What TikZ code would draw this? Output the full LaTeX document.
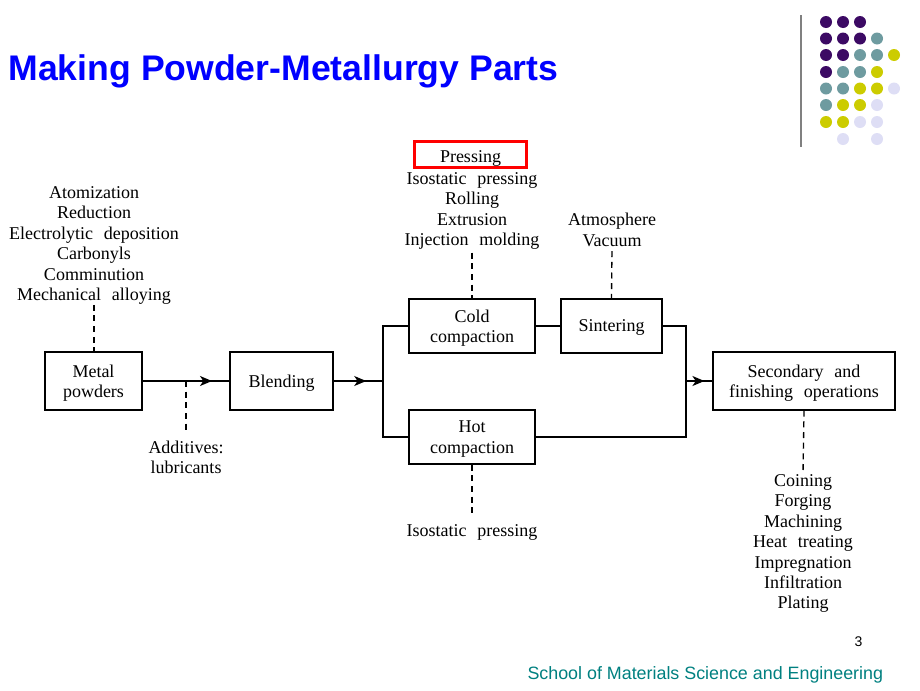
\documentclass[tikz,border=0pt]{standalone}
\usepackage{fontspec}
\setmainfont{Liberation Serif}
\newfontfamily\slidefont{Liberation Sans}
\usetikzlibrary{arrows.meta}
\usetikzlibrary{decorations.markings}
\definecolor{titleblue}{RGB}{0,0,255}
\definecolor{footteal}{RGB}{0,128,128}
\definecolor{dotpurple}{RGB}{60,10,100}
\definecolor{dotteal}{RGB}{110,155,160}
\definecolor{dotyellow}{RGB}{204,204,0}
\definecolor{dotlilac}{RGB}{222,222,245}
\newcommand{\wgap}{\hspace{0.6em}}
\tikzset{every picture/.style={line width=0.75pt}}
\tikzset{
  flowtext/.style={align=center, inner sep=0pt, font=\fontsize{13.5}{15.3}\selectfont},
  flowbox/.style={flowtext, draw, line width=1pt, text depth=0pt},
  flowline/.style={line width=1pt},
  dashlink/.style={line width=1pt, dash pattern=on 4.5pt off 3.5pt},
  arrowat/.style={postaction={decorate}, decoration={markings, mark=at position #1 with {\arrow{Stealth[length=9pt,width=7.5pt,inset=2.5pt]}}}},
}

\begin{document}
\begin{tikzpicture}[x=0.75pt,y=0.75pt,yscale=-1,xscale=1]
\useasboundingbox (0,0) rectangle (920,690);

% Title
\node [anchor=base west, inner sep=0pt, text=titleblue, font=\slidefont\bfseries\fontsize{26.7}{32}\selectfont] (title) at (8,80) {Making Powder-Metallurgy Parts};

% Rule and dots, top right
\draw [color=gray, line width=1.5pt] (801,15) -- (801,147) ;
\foreach \cx/\cy/\cc in {826/22/dotpurple, 843/22/dotpurple, 860/22/dotpurple,
  826/38.5/dotpurple, 843/38.5/dotpurple, 860/38.5/dotpurple, 877/38.5/dotteal,
  826/55/dotpurple, 843/55/dotpurple, 860/55/dotteal, 877/55/dotteal, 894/55/dotyellow,
  826/72/dotpurple, 843/72/dotteal, 860/72/dotteal, 877/72/dotyellow,
  826/88.5/dotteal, 843/88.5/dotteal, 860/88.5/dotyellow, 877/88.5/dotyellow, 894/88.5/dotlilac,
  826/105/dotteal, 843/105/dotyellow, 860/105/dotyellow, 877/105/dotlilac,
  826/122/dotyellow, 843/122/dotyellow, 860/122/dotlilac, 877/122/dotlilac,
  843/139/dotlilac, 877/139/dotlilac}
  \fill [\cc] (\cx,\cy) circle (6) ;

% Boxes
\node [flowbox, minimum width=72.75pt, minimum height=43.5pt] (powders) at (93.5,381) {Metal\\powders};
\node [flowbox, minimum width=77.25pt, minimum height=43.5pt] (blending) at (281.5,381) {Blending};
\node [flowbox, minimum width=94.5pt, minimum height=40.5pt] (cold) at (472,326) {Cold\\compaction};
\node [flowbox, minimum width=94.5pt, minimum height=40.5pt] (hot) at (472,437) {Hot\\compaction};
\node [flowbox, minimum width=75.75pt, minimum height=40.5pt] (sinter) at (611.5,326) {Sintering};
\node [flowbox, minimum width=136.5pt, minimum height=43.5pt] (finish) at (804,381) {Secondary\wgap and\\finishing\wgap operations};

% Text lists
\node [flowtext, anchor=north] (methods) at (94,186) {Atomization\\Reduction\\Electrolytic\wgap deposition\\Carbonyls\\Comminution\\Mechanical\wgap alloying};
\node [flowtext, anchor=north] (additives) at (186,440) {Additives:\\lubricants};
\node [flowtext, draw=red, line width=2.25pt, text height=12pt, text depth=0pt, minimum width=84pt, minimum height=19.5pt] (pressing) at (470.5,154.5) {Pressing};
\node [flowtext, anchor=north] (shaping) at (472,172) {Isostatic\wgap pressing\\Rolling\\Extrusion\\Injection\wgap molding};
\node [flowtext, anchor=north] (furnace) at (612,213) {Atmosphere\\Vacuum};
\node [flowtext, anchor=north] (hotiso) at (472,524) {Isostatic\wgap pressing};
\node [flowtext, anchor=north] (secondary) at (803,474) {Coining\\Forging\\Machining\\Heat\wgap treating\\Impregnation\\Infiltration\\Plating};

% Junctions
\coordinate (split) at (383,381);
\coordinate (merge) at (686,381);

% Flow lines
\draw [flowline, arrowat=0.8] (powders.east) -- (blending.west) ;
\draw [flowline, arrowat=0.66] (blending.east) -- (split) ;
\draw [flowline] (cold.west) -| (split) |- (hot.west) ;
\draw [flowline] (cold.east) -- (sinter.west) ;
\draw [flowline] (sinter.east) -| (merge) |- (hot.east) ;
\draw [flowline, arrowat=0.7] (merge) -- (finish.west) ;

% Dashed links
\draw [dashlink] (methods.south) -- (methods.south |- powders.north) ;
\draw [dashlink, shorten >=6pt] (additives.north |- powders.east) -- (additives.north) ;
\draw [dashlink, shorten <=2pt] (shaping.south) -- (cold.north) ;
\draw [dashlink, shorten <=3pt] (furnace.south) -- (sinter.north) ;
\draw [dashlink, shorten >=7pt] (hot.south) -- (hotiso.north) ;
\draw [dashlink] (finish.south) -- (secondary.north) ;

% Footer
\node [anchor=base, inner sep=0pt, font=\slidefont\fontsize{10.5}{12}\selectfont] (pagenum) at (858.5,646) {3};
\node [anchor=base west, inner sep=0pt, text=footteal, font=\slidefont\fontsize{13.4}{16}\selectfont] (footer) at (527,679) {School of Materials Science and Engineering};

\end{tikzpicture}
\end{document}
